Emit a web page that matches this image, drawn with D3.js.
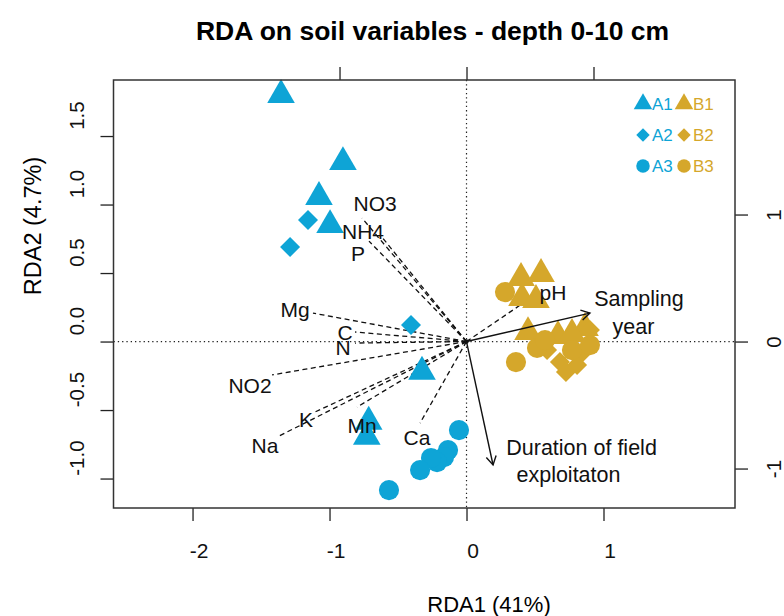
<!DOCTYPE html>
<html>
<head>
<meta charset="utf-8">
<script src="https://cdn.jsdelivr.net/npm/d3@7"></script>
<style>
  html, body { margin: 0; padding: 0; background: #fff; }
  svg { display: block; }
  text { font-family: "Liberation Sans", Arial, sans-serif; }
</style>
</head>
<body>
<svg id="chart" width="784" height="616"></svg>
<script>
// ---- Site scores (RDA1, RDA2) by treatment group ----
const groupA1 = [[-1.354, 1.800], [-0.902, 1.310], [-1.077, 1.055], [-0.996, 0.850],
                 [-0.325, -0.220], [-0.714, -0.585], [-0.728, -0.695]];
const groupA2 = [[-1.157, 0.887], [-1.288, 0.690], [-0.405, 0.120]];
const groupA3 = [[-0.055, -0.646], [-0.135, -0.792], [-0.164, -0.843], [-0.215, -0.880],
                 [-0.259, -0.850], [-0.339, -0.938], [-0.566, -1.084]];
const groupB1 = [[0.398, 0.464], [0.544, 0.493], [0.405, 0.318], [0.507, 0.303],
                 [0.449, 0.069], [0.668, 0.040], [0.865, 0.099], [0.770, 0.055]];
const groupB2 = [[0.682, -0.150], [0.807, -0.172], [0.588, -0.062], [0.901, 0.084],
                 [0.726, -0.223], [0.850, -0.077]];
const groupB3 = [[0.281, 0.361], [0.361, -0.150], [0.515, -0.047], [0.770, -0.062],
                 [0.901, -0.026], [0.573, 0.011]];

// ---- Soil variable vectors (biplot scores, secondary axes) ----
const soilVars  = ["NO3", "NH4", "P", "Mg", "C", "N", "NO2", "K", "Na", "Mn", "Ca", "pH"];
const soilTips  = [[-0.823, 0.972], [-0.673, 0.831], [-0.768, 0.791], [-1.209, 0.224],
                   [-0.878, 0.075], [-0.878, -0.012], [-1.531, -0.263], [-1.193, -0.555],
                   [-1.492, -0.752], [-0.862, -0.516], [-0.366, -0.642], [0.563, 0.382]];
const soilLabelAt = [[-0.720, 1.091], [-0.815, 0.866], [-0.854, 0.697], [-1.350, 0.256],
                     [-0.957, 0.070], [-0.972, -0.047], [-1.705, -0.343], [-1.264, -0.610],
                     [-1.587, -0.815], [-0.823, -0.658], [-0.390, -0.752], [0.681, 0.390]];

// ---- Explanatory vectors (solid arrows) ----
const explVars  = [["Sampling", "year"], ["Duration of field", "exploitaton"]];
const explTips  = [[0.972, 0.224], [0.209, -0.972]];
const explLabelAt = [[[1.358, 0.343], [1.315, 0.122]], [[0.906, -0.830], [0.803, -1.043]]];

// ---- Axes ----
const xDomain = [-2.577, 1.96];
const yDomain = [-1.215, 1.909];
const xTicks = [-2, -1, 0, 1];
const yTicks = [-1.0, -0.5, 0.0, 0.5, 1.0, 1.5];
const secTicks = [-1, 0, 1];
const secRatio = 137 / 127;
const titleText = "RDA on soil variables - depth 0-10 cm";
const xTitle = "RDA1 (41%)";
const yTitle = "RDA2 (4.7%)";

const legendLabels = [["A1", "B1"], ["A2", "B2"], ["A3", "B3"]];

const colA = "#0ea4d6";
const colB = "#d5a72b";

const svg = d3.select("#chart");
const box = { left: 113.5, right: 735, top: 80, bottom: 508 };

const x = d3.scaleLinear().domain(xDomain).range([box.left, box.right]);
const y = d3.scaleLinear().domain(yDomain).range([box.bottom, box.top]);
// secondary scale used by the top/right axes and the variable vectors
const x2 = d3.scaleLinear().domain(xDomain.map(v => v * secRatio)).range([box.left, box.right]);
const y2 = d3.scaleLinear().domain(yDomain.map(v => v * secRatio)).range([box.bottom, box.top]);

// title
svg.append("text").attr("x", 432.5).attr("y", 40).attr("text-anchor", "middle")
  .attr("font-weight", "bold").attr("font-size", 26.5).text(titleText);

// zero reference lines
const g = svg.append("g");
g.append("line").attr("x1", box.left).attr("x2", box.right).attr("y1", y(0)).attr("y2", y(0))
  .attr("stroke", "#222").attr("stroke-width", 1.2).attr("stroke-dasharray", "1.3,3");
g.append("line").attr("x1", x(0)).attr("x2", x(0)).attr("y1", box.top).attr("y2", box.bottom)
  .attr("stroke", "#222").attr("stroke-width", 1.2).attr("stroke-dasharray", "1.3,3");

// axes
const axisStyle = sel => {
  sel.select(".domain").remove();
  sel.selectAll(".tick line").attr("stroke", "#222").attr("stroke-width", 1.3);
  sel.selectAll(".tick text").attr("fill", "#111").attr("font-family", "Liberation Sans, Arial, sans-serif");
};
svg.append("g").attr("transform", `translate(0,${box.bottom})`)
  .call(d3.axisBottom(x).tickValues(xTicks).tickSize(13).tickFormat(d => String(d)))
  .call(axisStyle).attr("font-size", 21)
  .call(s => s.selectAll(".tick text").attr("x", 6).attr("y", 50).attr("dy", 0));
svg.append("g").attr("transform", `translate(${box.left},0)`)
  .call(d3.axisLeft(y).tickValues(yTicks).tickSize(13).tickFormat(d => d.toFixed(1)))
  .call(axisStyle).attr("font-size", 20.5)
  .call(s => s.selectAll(".tick text").attr("transform", "rotate(-90)")
    .attr("x", 21).attr("y", -30).attr("dy", 0).attr("text-anchor", "middle"));
svg.append("g").attr("transform", `translate(0,${box.top})`)
  .call(d3.axisTop(x2).tickValues(secTicks).tickSize(13).tickFormat(""))
  .call(axisStyle);
svg.append("g").attr("transform", `translate(${box.right},0)`)
  .call(d3.axisRight(y2).tickValues(secTicks).tickSize(13).tickFormat(d => String(d)))
  .call(axisStyle).attr("font-size", 20.5)
  .call(s => s.selectAll(".tick text").attr("transform", "rotate(-90)")
    .attr("x", 0).attr("y", 46).attr("dy", 0).attr("text-anchor", "middle"));

// axis titles
svg.append("text").attr("x", 489).attr("y", 612).attr("text-anchor", "middle")
  .attr("font-size", 22).text(xTitle);
svg.append("text").attr("transform", `translate(41,${226}) rotate(-90)`)
  .attr("text-anchor", "middle").attr("font-size", 23.5).text(yTitle);

// soil variable vectors (dashed)
const vecG = svg.append("g");
soilTips.forEach(t => {
  vecG.append("line").attr("x1", x2(0)).attr("y1", y2(0)).attr("x2", x2(t[0])).attr("y2", y2(t[1]))
    .attr("stroke", "#111").attr("stroke-width", 1.3).attr("stroke-dasharray", "5,3.5");
});

// site points
const sym = (type, size) => d3.symbol().type(type).size(size)();
const layers = [
  { data: groupA1, col: colA, shape: "tri" },
  { data: groupA2, col: colA, shape: "dia" },
  { data: groupA3, col: colA, shape: "cir" },
  { data: groupB1, col: colB, shape: "tri" },
  { data: groupB2, col: colB, shape: "dia" },
  { data: groupB3, col: colB, shape: "cir" }
];
function drawShape(sel, shape, scale) {
  if (shape === "tri") return sel.attr("d", sym(d3.symbolTriangle, 330 * scale));
  if (shape === "dia") return sel.attr("d", sym(d3.symbolSquare, 200 * scale));
  return sel.attr("d", sym(d3.symbolCircle, 320 * scale));
}
layers.forEach(L => {
  const p = svg.append("g").selectAll("path").data(L.data).join("path")
    .attr("fill", L.col)
    .attr("transform", d => `translate(${x(d[0])},${y(d[1])})` + (L.shape === "dia" ? " rotate(45)" : ""));
  drawShape(p, L.shape, 1);
});

// soil variable labels
soilVars.forEach((name, i) => {
  svg.append("text").attr("x", x2(soilLabelAt[i][0])).attr("y", y2(soilLabelAt[i][1]))
    .attr("dy", "0.36em").attr("text-anchor", "middle").attr("font-size", 21).attr("fill", "#111")
    .text(name);
});

// explanatory vectors (solid with open arrowheads)
explTips.forEach((t, i) => {
  const x0 = x2(0), y0 = y2(0), x1 = x2(t[0]), y1 = y2(t[1]);
  const ang = Math.atan2(y1 - y0, x1 - x0);
  const L = 10, a = Math.PI / 6;
  svg.append("line").attr("x1", x0).attr("y1", y0).attr("x2", x1).attr("y2", y1)
    .attr("stroke", "#111").attr("stroke-width", 1.4);
  svg.append("path")
    .attr("d", `M${x1 - L * Math.cos(ang - a)},${y1 - L * Math.sin(ang - a)}L${x1},${y1}L${x1 - L * Math.cos(ang + a)},${y1 - L * Math.sin(ang + a)}`)
    .attr("fill", "none").attr("stroke", "#111").attr("stroke-width", 1.4);
  explVars[i].forEach((line, j) => {
    svg.append("text").attr("x", x2(explLabelAt[i][j][0])).attr("y", y2(explLabelAt[i][j][1]))
      .attr("dy", "0.36em").attr("text-anchor", "middle").attr("font-size", 21.5).attr("fill", "#111")
      .text(line);
  });
});

// origin marker
svg.append("circle").attr("cx", x(0)).attr("cy", y(0)).attr("r", 2.2).attr("fill", "#111");

// plot frame
svg.append("rect").attr("x", box.left).attr("y", box.top)
  .attr("width", box.right - box.left).attr("height", box.bottom - box.top)
  .attr("fill", "none").attr("stroke", "#333").attr("stroke-width", 1.5);

// legend
const legShapes = ["tri", "dia", "cir"];
const legG = svg.append("g").attr("font-family", "'Open Sans', sans-serif").attr("font-size", 17);
legendLabels.forEach((row, r) => {
  const cy = 104 + r * 31;
  [colA, colB].forEach((col, c) => {
    const sx = 643 + c * 41;
    const p = legG.append("path").attr("fill", col)
      .attr("transform", `translate(${sx},${cy})` + (legShapes[r] === "dia" ? " rotate(45)" : ""));
    drawShape(p, legShapes[r], 0.45);
    legG.append("text").attr("x", sx + 9).attr("y", cy).attr("dy", "0.36em")
      .attr("fill", col).text(row[c]);
  });
});
</script>
</body>
</html>
